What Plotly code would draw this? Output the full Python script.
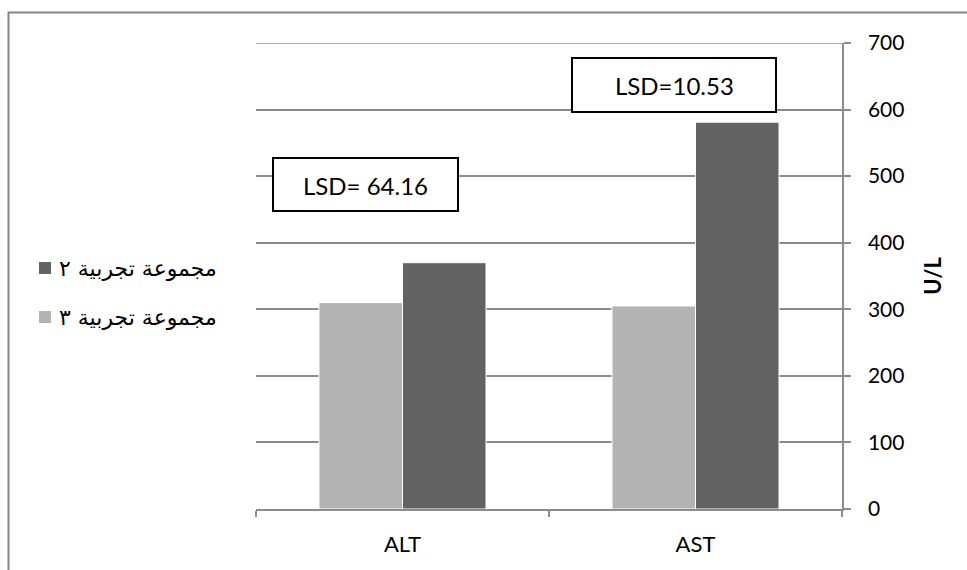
import plotly.graph_objects as go

# Data
categories = ["ALT", "AST"]
group3_name = "مجموعة تجربية ٣"
group2_name = "مجموعة تجربية ٢"
group3_values = [310, 305]
group2_values = [370, 581]
lsd_labels = ["LSD= 64.16", "LSD=10.53"]
y_ticks = [0, 100, 200, 300, 400, 500, 600, 700]

LIGHT = "#B3B3B3"
DARK = "#626262"
GRID = "#8C8C8C"
FONT = "Lato, 'Open Sans', sans-serif"
AR_FONT = "'DejaVu Sans', 'Liberation Sans', sans-serif"

W, H = 967, 570
ML, MR, MT, MB = 256, 125, 43, 61
PW, PH = W - ML - MR, H - MT - MB


def px(x):
    return (x - ML) / PW


def py(y):
    return (H - MB - y) / PH


fig = go.Figure()
fig.add_trace(go.Bar(x=categories, y=group3_values, name=group3_name,
                     marker=dict(color=LIGHT, line=dict(color="white", width=1)),
                     showlegend=False))
fig.add_trace(go.Bar(x=categories, y=group2_values, name=group2_name,
                     marker=dict(color=DARK, line=dict(color="white", width=1)),
                     showlegend=False))

shapes = []
annotations = []

# Outer chart border
shapes.append(dict(type="rect", xref="paper", yref="paper",
                   x0=px(8.5), x1=px(990), y0=py(12.5), y1=py(600),
                   line=dict(color="#868686", width=2), fillcolor="rgba(0,0,0,0)",
                   layer="below"))

# Top gridline at the end of the value range
shapes.append(dict(type="line", xref="paper", yref="y", x0=0, x1=1,
                   y0=y_ticks[-1], y1=y_ticks[-1],
                   line=dict(color=GRID, width=1.5), layer="below"))

# LSD boxes
lsd_boxes = [(273, 458, 158, 211), (572, 776, 58, 112)]
for (x0, x1, y0, y1), label in zip(lsd_boxes, lsd_labels):
    shapes.append(dict(type="rect", xref="paper", yref="paper",
                       x0=px(x0), x1=px(x1), y0=py(y0), y1=py(y1),
                       line=dict(color="black", width=2), fillcolor="white",
                       layer="above"))
    annotations.append(dict(xref="paper", yref="paper",
                            x=px((x0 + x1) / 2), y=py((y0 + y1) / 2 + 1),
                            text=label, showarrow=False,
                            font=dict(family=FONT, size=24, color="black"),
                            xanchor="center", yanchor="middle"))

# Legend drawn right-to-left: swatch on the right of each label
legend_items = [(group2_name, DARK, 268), (group3_name, LIGHT, 317)]
for name, color, cy in legend_items:
    shapes.append(dict(type="rect", xref="paper", yref="paper",
                       x0=px(39), x1=px(51), y0=py(cy - 6), y1=py(cy + 6),
                       line=dict(width=0), fillcolor=color))
    annotations.append(dict(xref="paper", yref="paper",
                            x=px(219), y=py(cy), text=name, showarrow=False,
                            font=dict(family=AR_FONT, size=22, color="black"),
                            xanchor="right", yanchor="middle"))

fig.update_layout(
    width=W, height=H,
    margin=dict(l=ML, r=MR, t=MT, b=MB, pad=0),
    paper_bgcolor="white", plot_bgcolor="white",
    barmode="group", bargap=0.43, bargroupgap=0,
    shapes=shapes, annotations=annotations,
    font=dict(family=FONT, color="black"),
    xaxis=dict(showgrid=False, showline=True, linecolor=GRID, linewidth=1.5,
               ticks="outside", tickson="boundaries", ticklen=6,
               tickcolor=GRID, tickwidth=1.5,
               tickfont=dict(family=FONT, size=22, color="black"),
               ticklabelstandoff=15),
    yaxis=dict(side="right", range=[0, 700], tickvals=y_ticks,
               showgrid=True, gridcolor=GRID, gridwidth=1.5,
               showline=True, linecolor=GRID, linewidth=1.5,
               ticks="outside", ticklen=7, tickcolor=GRID, tickwidth=1.5,
               tickfont=dict(family=FONT, size=21, color="black"),
               ticklabelstandoff=13,
               zeroline=False,
               title=dict(text="<b>U/L</b>", standoff=22,
                          font=dict(family=FONT, size=22, color="black"))),
)

fig.write_html("out.html")
